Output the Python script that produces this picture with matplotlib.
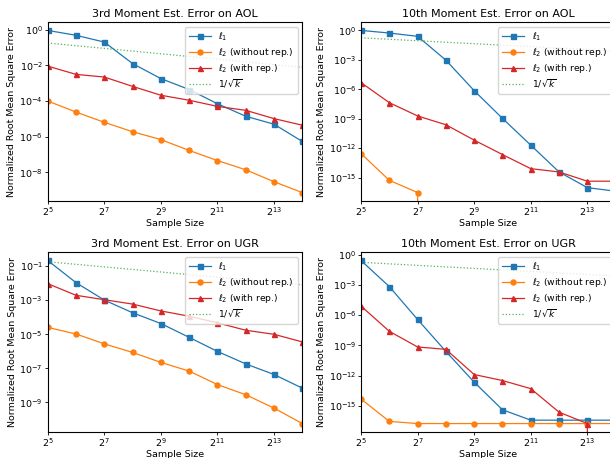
import matplotlib
matplotlib.use("Agg")
import matplotlib.pyplot as plt
from matplotlib.ticker import FixedLocator, LogFormatterSciNotation, NullLocator

sizes = [2**5, 2**6, 2**7, 2**8, 2**9, 2**10, 2**11, 2**12, 2**13, 2**14]
xtick_vals = [2**5, 2**7, 2**9, 2**11, 2**13]
xtick_labels = ["$2^{5}$", "$2^{7}$", "$2^{9}$", "$2^{11}$", "$2^{13}$"]

inv_sqrt_k = [0.177, 0.125, 0.0884, 0.0625, 0.0442, 0.03125, 0.0221, 0.0156, 0.0110, 0.0078]

titles = ["3rd Moment Est. Error on AOL", "10th Moment Est. Error on AOL",
          "3rd Moment Est. Error on UGR", "10th Moment Est. Error on UGR"]

# y tick exponents per panel
ytick_exps = [
    [0, -2, -4, -6, -8, -10],
    [0, -3, -6, -9, -12, -15, -18],
    [1, -1, -3, -5, -7, -9, -11],
    [0, -3, -6, -9, -12, -15, -18],
]

# AOL 3rd moment
aol3_l1 = [0.9, 0.48, 0.2, 0.0125, 1.8e-3, 4.4e-4, 7e-5, 1.4e-5, 5e-6, 5.4e-7]
aol3_l2_norep = [1e-4, 2.4e-5, 6.4e-6, 1.9e-6, 6.9e-7, 1.7e-7, 4.6e-8, 1.4e-8, 3e-9, 7.4e-10]
aol3_l2_rep = [9e-3, 3.1e-3, 2.2e-3, 6.6e-4, 2.1e-4, 1.1e-4, 5e-5, 3e-5, 1.03e-5, 4.4e-6]

# AOL 10th moment
aol10_l1 = [1.0, 0.54, 0.25, 9.3e-4, 7.2e-7, 1.07e-9, 2e-12, 3.7e-15, 9.3e-17, 4e-17]
aol10_l2_norep = [2.8e-13, 5.2e-16, 2.9e-17, 0, 0, 0, 0, 0, 0, 0]
aol10_l2_rep = [4.8e-6, 4.3e-8, 1.9e-9, 2.4e-10, 6.5e-12, 2.2e-13, 8e-15, 3.7e-15, 4.2e-16, 4.2e-16]

# UGR 3rd moment
ugr3_l1 = [0.21, 0.0105, 1e-3, 1.8e-4, 4.2e-5, 6.5e-6, 9.7e-7, 1.8e-7, 4.3e-8, 6.8e-9]
ugr3_l2_norep = [2.5e-5, 1.02e-5, 2.7e-6, 8.5e-7, 2.2e-7, 6.8e-8, 1.1e-8, 2.8e-9, 4.6e-10, 5.7e-11]
ugr3_l2_rep = [9.2e-3, 1.9e-3, 1.05e-3, 5.8e-4, 2.3e-4, 1.13e-4, 4.6e-5, 1.7e-5, 9.8e-6, 3.5e-6]

# UGR 10th moment
ugr10_l1 = [0.27, 6.9e-4, 3.7e-7, 2.5e-10, 2.2e-13, 4e-16, 3.7e-17, 3.7e-17, 3.7e-17, 3.7e-17]
ugr10_l2_norep = [4.7e-15, 2.8e-17, 1.7e-17, 1.7e-17, 1.7e-17, 1.7e-17, 1.7e-17, 1.7e-17, 1.7e-17, 1.7e-17]
ugr10_l2_rep = [8e-6, 2.5e-8, 6.9e-10, 4e-10, 1.26e-12, 3.2e-13, 5e-14, 2.3e-16, 1.7e-17, 0]

panels = [
    (aol3_l1, aol3_l2_norep, aol3_l2_rep),
    (aol10_l1, aol10_l2_norep, aol10_l2_rep),
    (ugr3_l1, ugr3_l2_norep, ugr3_l2_rep),
    (ugr10_l1, ugr10_l2_norep, ugr10_l2_rep),
]

FS_TITLE = 8.0
FS_LABEL = 6.8
FS_TICK = 6.8
FS_LEG = 6.7

fig = plt.figure(figsize=(6.10, 4.58), dpi=100)
positions = [
    [0.0782, 0.5618, 0.4174, 0.3895],
    [0.5918, 0.5618, 0.4174, 0.3895],
    [0.0782, 0.0574, 0.4174, 0.3917],
    [0.5918, 0.0574, 0.4174, 0.3917],
]

for pos, title, exps, (l1, l2n, l2r) in zip(positions, titles, ytick_exps, panels):
    ax = fig.add_axes(pos)
    ax.plot(sizes, l1, marker="s", color="#1f77b4", lw=0.9, ms=3.6, label=r"$\ell_1$")
    ax.plot(sizes, l2n, marker="o", color="#ff7f0e", lw=0.9, ms=3.6, label=r"$\ell_2$ (without rep.)")
    ax.plot(sizes, l2r, marker="^", color="#d62728", lw=0.9, ms=3.6, label=r"$\ell_2$ (with rep.)")
    ax.plot(sizes, inv_sqrt_k, ls=":", color="#2ca02c", lw=0.9, alpha=0.8, label=r"$1/\sqrt{k}$")
    ax.set_yscale("log")
    ax.set_xscale("log", base=2)
    ax.set_xlim(sizes[0], sizes[-1])
    ax.set_xticks(xtick_vals)
    ax.set_xticklabels(xtick_labels)
    ax.xaxis.set_minor_locator(NullLocator())
    ax.yaxis.set_major_locator(FixedLocator([10.0 ** e for e in exps]))
    ax.yaxis.set_major_formatter(LogFormatterSciNotation(base=10))
    ax.yaxis.set_minor_locator(NullLocator())
    ax.tick_params(labelsize=FS_TICK, length=2.5, width=0.6, pad=1.0)
    for s in ax.spines.values():
        s.set_linewidth(0.8)
    ax.set_title(title, fontsize=FS_TITLE, pad=4)
    ax.set_xlabel("Sample Size", fontsize=FS_LABEL, labelpad=0.5)
    ax.set_ylabel("Normalized Root Mean Square Error", fontsize=FS_LABEL, labelpad=2)
    ax.legend(loc="upper right", fontsize=FS_LEG, handlelength=2.4, borderpad=0.4,
              labelspacing=0.3, framealpha=0.8)

fig.savefig("out.png", dpi=100)
